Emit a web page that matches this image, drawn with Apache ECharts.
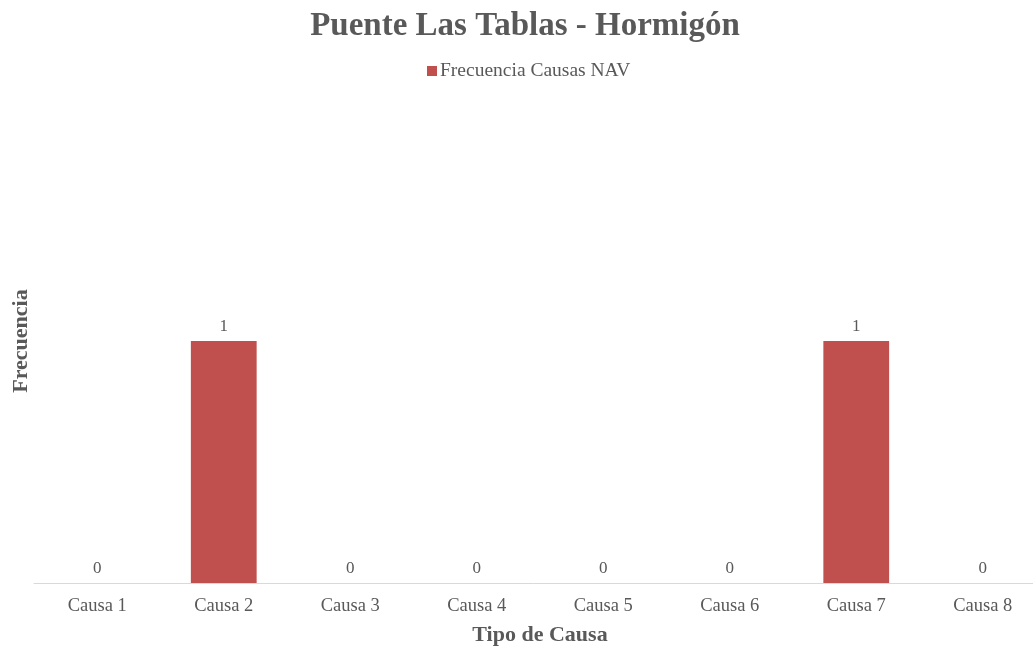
<!DOCTYPE html>
<html><head><meta charset="utf-8">
<script src="https://cdn.jsdelivr.net/npm/echarts@6/dist/echarts.min.js"></script>
<style>html,body{margin:0;padding:0;background:#fff}#c{width:1033px;height:648px}</style>
</head><body><div id="c"></div>
<script>
const categories = ['Causa 1','Causa 2','Causa 3','Causa 4','Causa 5','Causa 6','Causa 7','Causa 8'];
const seriesName = 'Frecuencia Causas NAV';
const values = [0,1,0,0,0,0,1,0];
const font = '"Liberation Serif","Times New Roman",serif';
const chart = echarts.init(document.getElementById('c'));
chart.setOption({
  animation:false,
  title:{text:'Puente Las Tablas - Hormigón',left:520,textAlign:'center',top:5,
    textStyle:{fontFamily:font,fontSize:33,fontWeight:'bold',color:'#595959'}},
  legend:{data:[seriesName],top:56,left:422,itemWidth:10,itemHeight:10,icon:'rect',itemGap:4,
    textStyle:{fontFamily:font,fontSize:19.5,color:'#595959',padding:[0,0,0,-2]}},
  grid:{left:34,right:-13,top:99,bottom:65,outerBoundsMode:'none',containLabel:false},
  xAxis:{type:'category',data:categories,
    name:'Tipo de Causa',nameLocation:'middle',nameGap:41,
    nameTextStyle:{fontFamily:font,fontSize:22,fontWeight:'bold',color:'#595959'},
    axisLine:{lineStyle:{color:'#d9d9d9'}},axisTick:{show:false},
    axisLabel:{fontFamily:font,fontSize:18.5,color:'#595959',margin:14}},
  yAxis:{type:'value',min:0,max:2,show:true,
    name:'Frecuencia',nameLocation:'middle',nameGap:2,
    nameTextStyle:{fontFamily:font,fontSize:22,fontWeight:'bold',color:'#595959'},
    axisLine:{show:false},axisTick:{show:false},axisLabel:{show:false},splitLine:{show:false}},
  series:[{name:seriesName,type:'bar',data:values,barWidth:'52%',
    itemStyle:{color:'#c0504d'},
    label:{show:true,position:'top',distance:6,fontFamily:font,fontSize:17,color:'#595959'}}]
});
</script></body></html>
